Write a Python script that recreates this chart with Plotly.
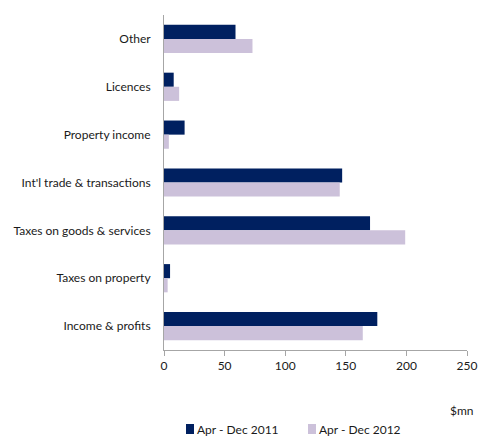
import plotly.graph_objects as go

# Revenue categories, listed top to bottom
categories = ["Other", "Licences", "Property income", "Int'l trade & transactions",
              "Taxes on goods & services", "Taxes on property", "Income & profits"]
values_2011 = [59, 8, 17, 147, 170, 5, 176]
values_2012 = [73, 12.5, 4, 145, 199, 3, 164]
series_names = ["Apr - Dec 2011", "Apr - Dec 2012"]
series_colors = ["#002060", "#ccc1da"]
x_ticks = [0, 50, 100, 150, 200, 250]

FONT = "Lato, sans-serif"
TEXT = "#1a1a1a"

fig = go.Figure()
for vals, name, col in zip([values_2011, values_2012], series_names, series_colors):
    fig.add_trace(go.Bar(y=categories, x=vals, name=name, orientation="h",
                         marker=dict(color=col, line=dict(width=0)),
                         showlegend=False))

# Legend keys drawn below the axis (pixel offsets from the plot's left/bottom edge)
legend_offsets = [22, 144]
shapes, annotations = [], []
for off, name, col in zip(legend_offsets, series_names, series_colors):
    shapes.append(dict(type="rect", xref="paper", yref="paper",
                       xsizemode="pixel", ysizemode="pixel", xanchor=0, yanchor=0,
                       x0=off, x1=off + 8, y0=-74, y1=-84,
                       fillcolor=col, line=dict(width=0)))
    annotations.append(dict(text=name, xref="paper", yref="paper", x=0, y=0,
                            xshift=off + 9, yshift=-79, xanchor="left", yanchor="middle",
                            showarrow=False, font=dict(size=12, color=TEXT)))
annotations.append(dict(text="$mn", xref="paper", yref="paper", x=0, y=0,
                        xshift=298, yshift=-60, xanchor="center", yanchor="middle",
                        showarrow=False, font=dict(size=12, color=TEXT)))

fig.update_layout(
    width=486, height=436,
    margin=dict(l=164, r=19, t=15, b=86),
    barmode="group", bargap=0.41, bargroupgap=0,
    plot_bgcolor="white", paper_bgcolor="white",
    font=dict(family=FONT, size=12, color=TEXT),
    showlegend=False,
    xaxis=dict(range=[0, 250], tickvals=x_ticks, showgrid=False, zeroline=False,
               showline=True, linecolor="#a6a6a6", linewidth=1,
               ticks="outside", ticklen=5, tickcolor="#a6a6a6",
               tickfont=dict(size=12), automargin=False),
    yaxis=dict(autorange="reversed", showgrid=False, zeroline=False,
               showline=True, linecolor="#a6a6a6", linewidth=1,
               ticks="", tickfont=dict(size=12), ticklabelstandoff=10,
               automargin=False),
    shapes=shapes,
    annotations=annotations,
)

fig.write_html("out.html")
